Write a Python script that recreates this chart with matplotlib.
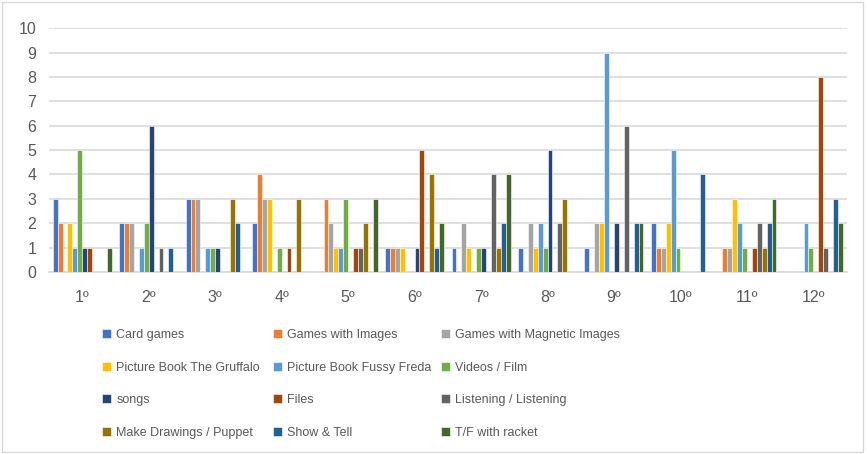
import numpy as np
import matplotlib.pyplot as plt
from matplotlib.patches import Rectangle

plt.rcParams['font.family'] = ['Liberation Sans', 'DejaVu Sans']

sessions = ['1º', '2º', '3º', '4º', '5º', '6º', '7º', '8º', '9º', '10º', '11º', '12º']

series = ['Card games', 'Games with Images', 'Games with Magnetic Images',
          'Picture Book The Gruffalo', 'Picture Book Fussy Freda', 'Videos / Film',
          'songs', 'Files', 'Listening / Listening',
          'Make Drawings / Puppet', 'Show & Tell', 'T/F with racket']

colors = ['#4472C4', '#ED7D31', '#A5A5A5', '#FFC000', '#5B9BD5', '#70AD47',
          '#264478', '#9E480E', '#636363', '#997300', '#255E91', '#43682B']

card_games      = [3, 2, 3, 2, 0, 1, 1, 1, 1, 2, 0, 0]
games_images    = [2, 2, 3, 4, 3, 1, 0, 0, 0, 1, 1, 0]
games_magnetic  = [0, 2, 3, 3, 2, 1, 2, 2, 2, 1, 1, 0]
gruffalo        = [2, 0, 0, 3, 1, 1, 1, 1, 2, 2, 3, 0]
fussy_freda     = [1, 1, 1, 0, 1, 0, 0, 2, 9, 5, 2, 2]
videos_film     = [5, 2, 1, 1, 3, 0, 1, 1, 0, 1, 1, 1]
songs           = [1, 6, 1, 0, 0, 1, 1, 5, 2, 0, 0, 0]
files           = [1, 0, 0, 1, 1, 5, 0, 0, 0, 0, 1, 8]
listening       = [0, 1, 0, 0, 1, 0, 4, 2, 6, 0, 2, 1]
drawings_puppet = [0, 0, 3, 3, 2, 4, 1, 3, 0, 0, 1, 0]
show_tell       = [0, 1, 2, 0, 0, 1, 2, 0, 2, 4, 2, 3]
tf_racket       = [1, 0, 0, 0, 3, 2, 4, 0, 2, 0, 3, 2]

values = [card_games, games_images, games_magnetic, gruffalo, fussy_freda,
          videos_film, songs, files, listening, drawings_puppet, show_tell, tf_racket]

fig = plt.figure(figsize=(8.67, 4.54), dpi=100)
ax = fig.add_axes([0.0565, 0.401, 0.920, 0.537])

x = np.arange(len(sessions))
n = len(series)
w = 0.074
handles = []
for i, (name, vals, c) in enumerate(zip(series, values, colors)):
    b = ax.bar(x + (i - (n - 1) / 2) * w, vals, width=w, color=c,
               edgecolor='white', linewidth=0.4, label=name, zorder=3)
    handles.append(b)

ax.set_xlim(-0.5, len(sessions) - 0.5)
ax.set_ylim(0, 10)
ax.set_yticks(range(0, 11))
ax.set_xticks(x)
ax.set_xticklabels(sessions)
ax.yaxis.grid(True, color='#D9D9D9', linewidth=1.2, zorder=0)
ax.tick_params(axis='both', length=0, labelsize=11.5, colors='#595959')
ax.tick_params(axis='x', pad=13)
ax.tick_params(axis='y', pad=9)
for s in ['top', 'right', 'left']:
    ax.spines[s].set_visible(False)
ax.spines['bottom'].set_color('#D9D9D9')
ax.spines['bottom'].set_linewidth(1.2)

# one legend per column so the three columns sit where wanted
col_x = [102 / 867, 273 / 867, 441 / 867]
for col in range(3):
    idx = [col + 3 * r for r in range(4)]
    fig.legend([handles[i] for i in idx], [series[i] for i in idx],
               loc='upper left', bbox_to_anchor=(col_x[col], 1 - 329 / 454),
               frameon=False, fontsize=9,
               handlelength=0.75, handleheight=0.75,
               handletextpad=0.4, labelspacing=1.65, borderpad=0,
               borderaxespad=0, labelcolor='#595959')

fig.patches.append(Rectangle((0.002, 0.004), 0.993, 0.992, transform=fig.transFigure,
                             fill=False, edgecolor='#D9D9D9', linewidth=1))

fig.savefig('out.png', dpi=100)
